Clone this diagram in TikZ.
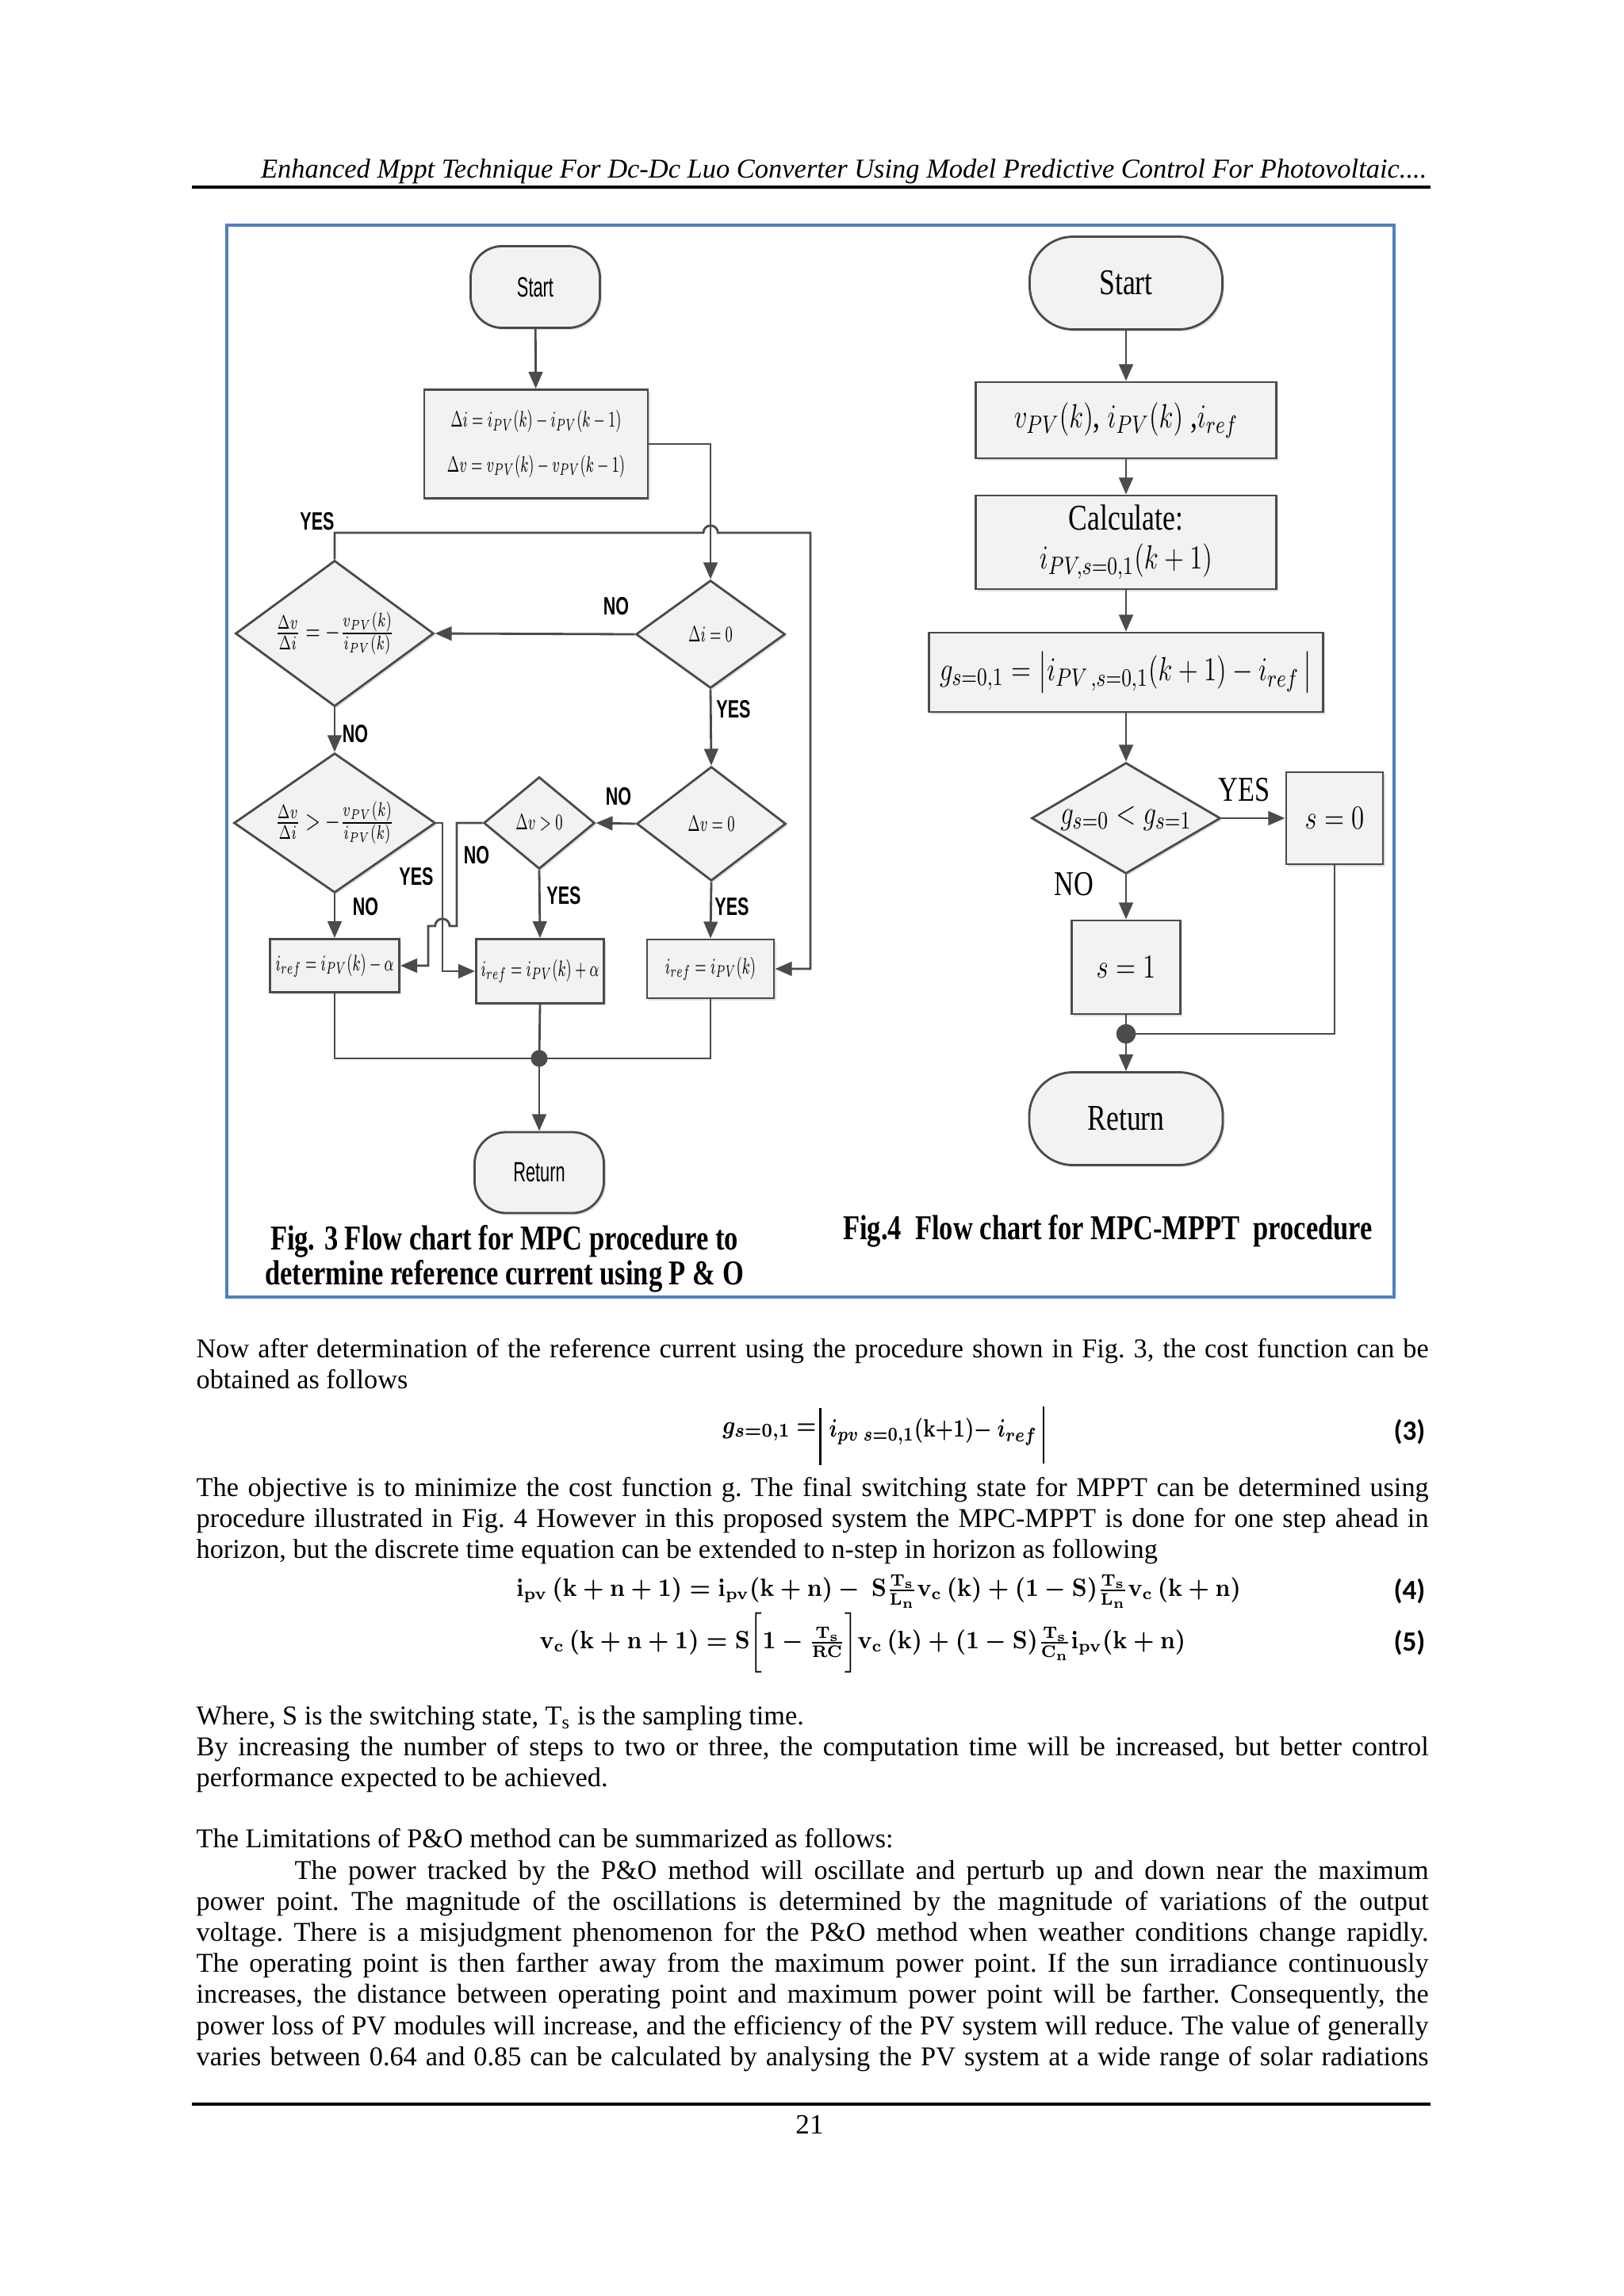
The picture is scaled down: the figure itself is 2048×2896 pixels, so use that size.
\documentclass[tikz,border=0pt]{standalone}
\usepackage{amsmath}
\usepackage{fontspec}
\setmainfont{Liberation Serif}
\setsansfont{Liberation Sans}
\newfontfamily\calfont{Carlito}
\usepackage{graphicx}
\usepackage{tikz}
\usetikzlibrary{arrows.meta,shapes.geometric,shadows}
\definecolor{frameblue}{RGB}{79,129,189}
\definecolor{chartline}{RGB}{75,75,75}
\definecolor{chartfill}{RGB}{242,242,242}
\newcommand{\lsq}[1]{\scalebox{0.68}[1]{#1}}
\newcommand{\lsm}[1]{\scalebox{0.62}[1]{\fontsize{8.5}{10}\selectfont#1}}
\newcommand{\rsq}[1]{\scalebox{0.78}[1]{#1}}
\newcommand{\jline}[1]{\makebox[15.53cm][s]{#1}}
\newsavebox{\eqthreeL}
\newsavebox{\eqthreeR}
\newsavebox{\eqfour}
\newsavebox{\eqfive}

\begin{document}
\sbox{\eqthreeL}{\fontsize{9.5}{11}\selectfont\boldmath\scalebox{0.86}[1]{$g_{s=0,1}\ {=}$}}
\sbox{\eqthreeR}{\fontsize{9.5}{11}\selectfont\boldmath\scalebox{0.78}[1]{$i_{pv\ s=0,1}\mathbf{(k{+}1)}\mathbf{-}\ i_{ref}$}}
\sbox{\eqfour}{\fontsize{9.2}{11}\selectfont\boldmath\scalebox{0.91}[1]{$\mathbf{i_{pv}\,(k+n+1)=i_{pv}(k+n)-\ S\frac{T_s}{L_n}v_c\,(k)+(1-S)\frac{T_s}{L_n}v_c\,(k+n)}$}}
\sbox{\eqfive}{\fontsize{9.2}{11}\selectfont\boldmath\scalebox{0.91}[1]{$\mathbf{v_c\,(k+n+1)=S\biggl[1-\frac{T_s}{RC}\biggr]v_c\,(k)+(1-S)\frac{T_s}{C_n}i_{pv}(k+n)}$}}
\begin{tikzpicture}[x=0.01cm,y=-0.01cm,
  >={Triangle[length=6pt,width=5pt]},
  conn/.style={draw=chartline,line width=0.8pt},
  box/.style={draw=chartline,line width=0.8pt,fill=chartfill,inner sep=1pt,
    drop shadow={opacity=0.25,shadow xshift=0.7pt,shadow yshift=-0.7pt}},
  term/.style={box,rounded corners=0.4cm},
  decision/.style={box,diamond,inner sep=0pt},
  ynL/.style={inner sep=0pt,font=\sffamily\bfseries\fontsize{9}{10}\selectfont},
  ynR/.style={inner sep=0pt,font=\fontsize{12.5}{13}\selectfont},
  caption/.style={inner sep=0pt,font=\bfseries\fontsize{12.5}{14}\selectfont},
  eqno/.style={anchor=east,inner sep=0pt,font=\calfont\bfseries\fontsize{10}{12}\selectfont},
  body/.style={anchor=base west,inner sep=0pt,font=\fontsize{9.75}{11}\selectfont\frenchspacing}]
\fill[white] (0,0) rectangle (2048,2896);
\useasboundingbox (0,0) rectangle (2048,2896);

% page head
\node[anchor=base east,inner sep=0pt,font=\itshape\fontsize{9.8}{11}\selectfont\frenchspacing] (head) at (1800,224)
  {Enhanced Mppt Technique For Dc-Dc Luo Converter Using Model Predictive Control For Photovoltaic....};
\draw[line width=1pt] (242,236) -- (1804,236);

% figure frame
\draw[frameblue,line width=1.1pt] (286,284) rectangle (1758,1636);

% Fig. 3
\node[term,minimum width=1.63cm,minimum height=1.03cm] (startL) at (675,362) {\scalebox{0.62}[1]{\sffamily\fontsize{10}{12}\selectfont Start}};
\node[box,minimum width=2.82cm,minimum height=1.37cm,align=center] (calcL) at (676,560)
  {\lsm{$\Delta i=i_{PV}(k)-i_{PV}(k-1)$}\\[4pt]\lsm{$\Delta v=v_{PV}(k)-v_{PV}(k-1)$}};
\node[decision,minimum width=2.5cm,minimum height=1.84cm,aspect=1.36] (dA) at (422,799)
  {\lsq{$\frac{\Delta v}{\Delta i}=-\frac{v_{PV}(k)}{i_{PV}(k)}$}};
\node[decision,minimum width=1.88cm,minimum height=1.36cm,aspect=1.38] (dB) at (896,800) {\lsm{$\Delta i=0$}};
\node[decision,minimum width=2.54cm,minimum height=1.76cm,aspect=1.44] (dC) at (422,1038)
  {\lsq{$\frac{\Delta v}{\Delta i}>-\frac{v_{PV}(k)}{i_{PV}(k)}$}};
\node[decision,minimum width=1.88cm,minimum height=1.44cm,aspect=1.3] (dD) at (897,1039) {\lsm{$\Delta v=0$}};
\node[decision,minimum width=1.40cm,minimum height=1.16cm,aspect=1.2] (dE) at (680,1038) {\lsm{$\Delta v>0$}};
\node[box,minimum width=1.63cm,minimum height=0.67cm] (bL) at (422,1218) {\lsm{$i_{ref}=i_{PV}(k)-\alpha$}};
\node[box,minimum width=1.61cm,minimum height=0.81cm] (bM) at (681,1225) {\lsm{$i_{ref}=i_{PV}(k)+\alpha$}};
\node[box,minimum width=1.60cm,minimum height=0.74cm] (bR) at (896,1222) {\lsm{$i_{ref}=i_{PV}(k)$}};
\node[term,minimum width=1.63cm,minimum height=1.02cm] (retL) at (680,1479) {\scalebox{0.62}[1]{\sffamily\fontsize{10}{12}\selectfont Return}};
\coordinate (jL) at (680,1335);

\draw[conn,->] (startL) -- (calcL);
\draw[conn,->] (calcL.east) -| (dB.north);
\draw[conn,->] (dA.north) -- (422,672) -- (887,672) arc[start angle=180,end angle=0,radius=2.6pt]
  -- (1022,672) |- (bR.east);
\draw[conn,->] (dB.west) -- (dA.east);
\draw[conn,->] (dB.south) -- (dD.north);
\draw[conn,->] (dA.south) -- (dC.north);
\draw[conn,->] (dD.west) -- (dE.east);
\draw[conn,->] (dE.south) -- (bM.north);
\draw[conn,->] (dD.south) -- (bR.north);
\draw[conn,->] (dC.south) -- (bL.north);
\draw[conn,->] (dC.east) -- (558,1038) |- (bM.west);
\draw[conn,->] (dE.west) -- (576,1038) -- (576,1168) -- (567,1168)
  arc[start angle=0,end angle=180,radius=2.6pt] -- (540,1168) |- (bL.east);
\draw[conn] (bL.south) |- (jL) -| (bR.south);
\draw[conn] (bM.south) -- (jL);
\fill[chartline] (jL) circle (3pt);
\draw[conn,->] (jL) -- (retL);

\node[ynL] (yesA) at (400,658) {\lsq{YES}};
\node[ynL] (noB) at (777,765) {\lsq{NO}};
\node[ynL] (yesB) at (925,895) {\lsq{YES}};
\node[ynL] (noA) at (448,926) {\lsq{NO}};
\node[ynL] (noD) at (780,1005) {\lsq{NO}};
\node[ynL] (noE) at (601,1079) {\lsq{NO}};
\node[ynL] (yesC) at (525,1106) {\lsq{YES}};
\node[ynL] (noC) at (461,1144) {\lsq{NO}};
\node[ynL] (yesE) at (711,1130) {\lsq{YES}};
\node[ynL] (yesD) at (923,1144) {\lsq{YES}};

\node[caption] (capL1) at (636,1566) {\scalebox{0.785}[1]{Fig. 3 Flow chart for MPC procedure to}};
\node[caption] (capL2) at (636,1610) {\scalebox{0.785}[1]{determine reference current using P \& O}};

% Fig. 4
\node[term,rounded corners=0.55cm,minimum width=2.43cm,minimum height=1.17cm,font=\fontsize{13}{14}\selectfont] (startR) at (1420,357) {\rsq{Start}};
\node[box,minimum width=3.78cm,minimum height=0.96cm,font=\fontsize{13}{14}\selectfont] (inR) at (1420,530)
  {\rsq{$v_{PV}(k)$, $i_{PV}(k)$ ,$i_{ref}$}};
\node[box,minimum width=3.78cm,minimum height=1.18cm,align=center,font=\fontsize{13}{14}\selectfont] (calcR) at (1420,684)
  {\rsq{Calculate:}\\\rsq{$i_{PV,s=0,1}(k+1)$}};
\node[box,minimum width=4.96cm,minimum height=1.0cm,font=\fontsize{12.5}{14}\selectfont] (gR) at (1420,848)
  {\rsq{$g_{s=0,1}=\bigl\vert i_{PV\,,s=0,1}(k+1)-i_{ref}\,\bigr\vert$}};
\node[decision,minimum width=2.38cm,minimum height=1.40cm,aspect=1.7,font=\fontsize{13}{14}\selectfont] (dR) at (1420,1032) {\rsq{$g_{s=0}<g_{s=1}$}};
\node[box,minimum width=1.22cm,minimum height=1.16cm,font=\fontsize{13}{14}\selectfont] (s0) at (1683,1032) {\rsq{$s=0$}};
\node[box,minimum width=1.37cm,minimum height=1.18cm,font=\fontsize{13}{14}\selectfont] (s1) at (1420,1220) {\rsq{$s=1$}};
\node[term,rounded corners=0.55cm,minimum width=2.44cm,minimum height=1.17cm,font=\fontsize{13}{14}\selectfont] (retR) at (1420,1411) {\rsq{Return}};
\coordinate (jR) at (1420,1304);

\draw[conn,->] (startR) -- (inR);
\draw[conn,->] (inR) -- (calcR);
\draw[conn,->] (calcR) -- (gR);
\draw[conn,->] (gR) -- (dR);
\draw[conn,->] (dR) -- (s0);
\draw[conn,->] (dR) -- (s1);
\draw[conn] (s1) -- (jR);
\draw[conn] (s0.south) |- (jR);
\fill[chartline] (jR) circle (3.5pt);
\draw[conn,->] (jR) -- (retR);

\node[ynR] (yesR) at (1569,996) {\rsq{YES}};
\node[ynR] (noR) at (1354,1115) {\rsq{NO}};

\node[caption] (capR) at (1397,1553) {\scalebox{0.785}[1]{Fig.4\ \ Flow chart for MPC-MPPT\ \ procedure}};

% body text
\node[body] (t1) at (247,1712) {\jline{Now after determination of the reference current using the procedure shown in Fig. 3, the cost function can be}};
\node[body] (t2) at (247,1751) {obtained as follows};
\node[anchor=east,inner sep=0pt] (eq3a) at (1030,1806) {\usebox{\eqthreeL}};
\node[anchor=west,inner sep=0pt] (eq3b) at (1045,1806) {\usebox{\eqthreeR}};
\draw[line width=0.6pt] ([xshift=-3pt]eq3b.west |- 0,1776) -- ([xshift=-3pt]eq3b.west |- 0,1848);
\draw[line width=0.6pt] ([xshift=2pt]eq3b.east |- 0,1774) -- ([xshift=2pt]eq3b.east |- 0,1846);
\node[eqno] (n3) at (1798,1806) {(3)};
\node[body] (t3) at (247,1887) {\jline{The objective is to minimize the cost function g. The final switching state for MPPT can be determined using}};
\node[body] (t4) at (247,1926) {\jline{procedure illustrated in Fig. 4 However in this proposed system the MPC-MPPT is done for one step ahead in}};
\node[body] (t5) at (247,1965) {horizon, but the discrete time equation can be extended to n-step in horizon as following};
\node[inner sep=0pt] (eq4) at (1108,2007) {\usebox{\eqfour}};
\node[eqno] (n4) at (1798,2007) {(4)};
\node[inner sep=0pt] (eq5) at (1088,2072) {\usebox{\eqfive}};
\node[eqno] (n5) at (1798,2072) {(5)};
\node[body] (t6) at (247,2175) {Where, S is the switching state, T\textsubscript{s} is the sampling time.};
\node[body] (t7) at (247,2214) {\jline{By increasing the number of steps to two or three, the computation time will be increased, but better control}};
\node[body] (t8) at (247,2253) {performance expected to be achieved.};
\node[body] (t9) at (247,2330) {The Limitations of P\&O method can be summarized as follows:};
\node[body] (t10) at (371,2370) {\makebox[14.29cm][s]{The power tracked by the P\&O method will oscillate and perturb up and down near the maximum}};
\node[body] (t11) at (247,2409) {\jline{power point. The magnitude of the oscillations is determined by the magnitude of variations of the output}};
\node[body] (t12) at (247,2448) {\jline{voltage. There is a misjudgment phenomenon for the P\&O method when weather conditions change rapidly.}};
\node[body] (t13) at (247,2487) {\jline{The operating point is then farther away from the maximum power point. If the sun irradiance continuously}};
\node[body] (t14) at (247,2526) {\jline{increases, the distance between operating point and maximum power point will be farther. Consequently, the}};
\node[body] (t15) at (247,2566) {\jline{power loss of PV modules will increase, and the efficiency of the PV system will reduce. The value of generally}};
\node[body] (t16) at (247,2605) {\jline{varies between 0.64 and 0.85 can be calculated by analysing the PV system at a wide range of solar radiations}};

% page foot
\draw[line width=1pt] (242,2654) -- (1804,2654);
\node[font=\fontsize{10}{12}\selectfont,inner sep=0pt] (pgno) at (1021,2680) {21};
\end{tikzpicture}
\end{document}
